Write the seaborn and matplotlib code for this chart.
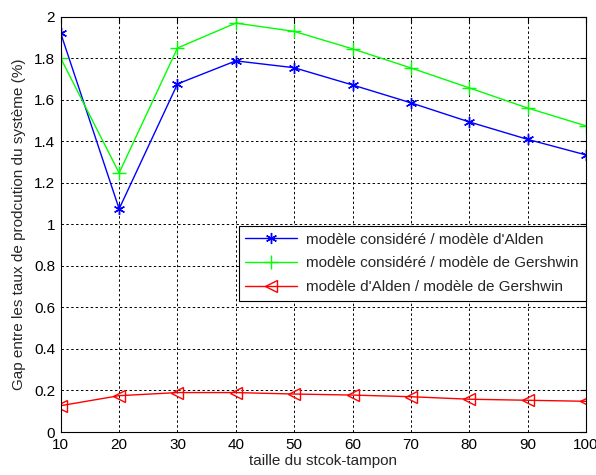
import matplotlib
matplotlib.use("Agg")
import matplotlib.pyplot as plt
import seaborn as sns
import pandas as pd

x = [10, 20, 30, 40, 50, 60, 70, 80, 90, 100]
alden = [1.92, 1.075, 1.677, 1.788, 1.755, 1.672, 1.586, 1.494, 1.41, 1.335]
gershwin = [1.80, 1.248, 1.85, 1.97, 1.93, 1.846, 1.754, 1.658, 1.561, 1.475]
alden_gershwin = [0.127, 0.175, 0.19, 0.19, 0.183, 0.178, 0.17, 0.158, 0.153, 0.148]
labels = ["modèle considéré / modèle d'Alden",
          "modèle considéré / modèle de Gershwin",
          "modèle d'Alden / modèle de Gershwin"]

sns.set_style("white")
plt.rcParams['font.family'] = ['Liberation Sans', 'DejaVu Sans']

fig = plt.figure(figsize=(5.96, 4.75), dpi=100)
ax = fig.add_axes([0.102, 0.0905, 0.881, 0.874])

df = pd.DataFrame({"x": x * 3,
                   "y": alden + gershwin + alden_gershwin,
                   "s": [labels[0]] * 10 + [labels[1]] * 10 + [labels[2]] * 10})

colors = ["#0000ff", "#00ff00", "#ff0000"]
markers = [(6, 2, 0), "+", "<"]
sizes = [8, 10, 9]
for lab, c, m, ms in zip(labels, colors, markers, sizes):
    sub = df[df["s"] == lab]
    kw = dict(markersize=ms, markeredgewidth=1.0)
    if m == "<":
        kw.update(markerfacecolor="none", markeredgecolor=c)
    else:
        kw.update(markeredgecolor=c)
    sns.lineplot(data=sub, x="x", y="y", ax=ax, color=c, marker=m,
                 linewidth=1.0, label=lab, **kw)

ax.set_xlim(10, 100)
ax.set_ylim(0, 2)
ax.set_xticks(range(10, 101, 10))
ax.set_yticks([0, 0.2, 0.4, 0.6, 0.8, 1, 1.2, 1.4, 1.6, 1.8, 2])
ax.set_yticklabels(["0", "0.2", "0.4", "0.6", "0.8", "1", "1.2", "1.4", "1.6", "1.8", "2"])
ax.grid(True, color="black", linestyle=(0, (2.5, 2.5)), linewidth=0.7)
ax.tick_params(direction="in", top=True, right=True, length=4, labelsize=11, colors="black", pad=4)
for sp in ax.spines.values():
    sp.set_color("black")
    sp.set_linewidth(0.8)
ax.set_xlabel("taille du stcok-tampon", fontsize=11, labelpad=2)
ax.set_ylabel("Gap entre les taux de prodcution du système (%)", fontsize=11, labelpad=6)

leg = ax.legend(loc="upper right", bbox_to_anchor=(1.0, 0.497), fontsize=11,
                frameon=True, fancybox=False, edgecolor="black", framealpha=1,
                borderpad=0.45, labelspacing=0.65, handlelength=3.4,
                handletextpad=0.6, borderaxespad=0)
leg.get_frame().set_linewidth(0.8)

fig.savefig("out.png", dpi=100, facecolor="white")
